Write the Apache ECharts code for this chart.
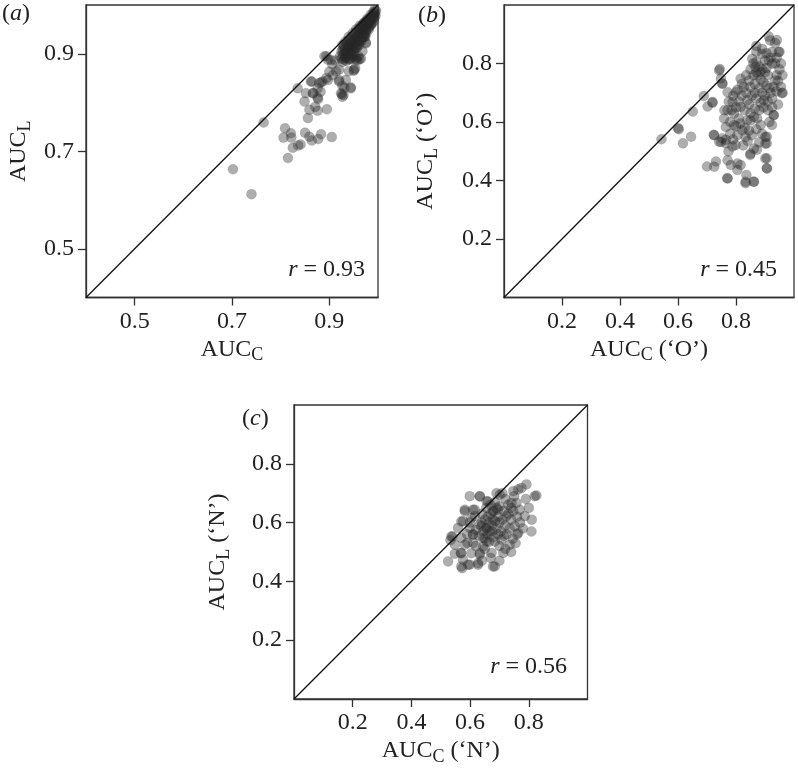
<!DOCTYPE html>
<html>
<head>
<meta charset="utf-8">
<script src="https://cdn.jsdelivr.net/npm/echarts@6/dist/echarts.min.js"></script>
<style>
html, body { margin: 0; padding: 0; background: #fff; }
#chart { width: 798px; height: 777px; }
</style>
</head>
<body>
<div id="chart"></div>
<script>
// (a) AUC_C vs AUC_L
var pointsA = [
    [0.702,0.663],[0.740,0.612],[0.765,0.759],[0.809,0.747],[0.806,0.728],[0.821,0.737],[0.822,0.728],
    [0.825,0.707],[0.815,0.686],[0.836,0.712],[0.841,0.714],[0.850,0.738],[0.859,0.730],[0.864,0.722],
    [0.877,0.725],[0.883,0.735],[0.905,0.729],[0.856,0.768],[0.859,0.785],[0.871,0.791],[0.876,0.783],
    [0.895,0.786],[0.849,0.802],[0.852,0.819],[0.866,0.819],[0.876,0.810],[0.882,0.822],[0.864,0.843],
    [0.883,0.841],[0.835,0.829],[0.897,0.846],[0.907,0.856],[0.914,0.864],[0.920,0.843],[0.927,0.834],
    [0.926,0.817],[0.929,0.815],[0.944,0.829],[0.950,0.865],[0.940,0.864],[0.953,0.870],[0.897,0.888],
    [0.906,0.878],[0.912,0.886],[0.890,0.895],[0.927,0.883],[0.958,0.886],[0.962,0.889],
    [0.894,0.895],[0.903,0.887],[0.920,0.867],[0.900,0.863],[0.894,0.850],[0.886,0.843],[0.879,0.840],
    [0.862,0.843],[0.876,0.829],[0.867,0.819],[0.877,0.807],[0.920,0.846],[0.934,0.846],[0.931,0.830],
    [0.944,0.831],[0.924,0.819],[0.927,0.812],[0.951,0.867],[0.941,0.888],[0.955,0.888],[0.975,0.921],
    [0.974,0.935],[0.975,0.923],[0.972,0.939],[0.968,0.905],[0.960,0.895],[0.955,0.892],[0.965,0.890],
    [0.925,0.905],[0.928,0.898],[0.930,0.912],[0.932,0.892],[0.933,0.905],[0.935,0.918],[0.936,0.899],
    [0.938,0.910],[0.938,0.925],[0.940,0.895],[0.940,0.915],[0.942,0.905],[0.943,0.930],[0.944,0.920],
    [0.945,0.900],[0.946,0.912],[0.947,0.935],[0.948,0.925],[0.949,0.908],[0.950,0.918],[0.951,0.940],
    [0.952,0.930],[0.953,0.912],[0.954,0.922],[0.955,0.945],[0.956,0.935],[0.957,0.918],[0.958,0.928],
    [0.959,0.948],[0.960,0.938],[0.961,0.925],[0.962,0.952],[0.963,0.942],[0.964,0.930],[0.965,0.956],
    [0.966,0.946],[0.967,0.935],[0.968,0.958],[0.969,0.950],[0.970,0.940],[0.971,0.962],[0.972,0.953],
    [0.973,0.944],[0.974,0.965],[0.975,0.957],[0.976,0.948],[0.977,0.968],[0.978,0.960],[0.979,0.952],
    [0.980,0.970],[0.981,0.963],[0.982,0.955],[0.983,0.973],[0.984,0.966],[0.985,0.958],[0.986,0.976],
    [0.987,0.969],[0.988,0.962],[0.989,0.979],[0.990,0.972],[0.991,0.966],[0.992,0.982],[0.993,0.975],
    [0.994,0.985],[0.995,0.978],[0.996,0.988],[0.985,0.980],[0.978,0.972],[0.970,0.963],[0.962,0.957],
    [0.955,0.950],[0.948,0.942],[0.940,0.935],[0.933,0.925],[0.927,0.918],[0.958,0.915],[0.965,0.925],
    [0.972,0.935],[0.945,0.890],[0.950,0.895],[0.930,0.888],[0.935,0.885],
    [0.922,0.895],[0.925,0.890],[0.928,0.908],[0.931,0.900],[0.934,0.893],[0.936,0.907],[0.939,0.902],
    [0.941,0.890],[0.943,0.912],[0.946,0.898],[0.948,0.915],[0.951,0.905],[0.953,0.925],[0.956,0.912],
    [0.958,0.935],[0.961,0.918],[0.963,0.945],[0.966,0.928],[0.968,0.950],[0.971,0.935],[0.973,0.958],
    [0.976,0.942],[0.978,0.965],[0.981,0.950],[0.983,0.970],[0.986,0.962],[0.988,0.975],[0.991,0.978],
    [0.993,0.990],[0.990,0.985],[0.937,0.920],[0.942,0.928],[0.930,0.918]
];

// (b) AUC_C ('O') vs AUC_L ('O')
var pointsB = [
    [0.543,0.541],[0.600,0.579],[0.603,0.575],[0.617,0.527],[0.645,0.550],[0.651,0.636],[0.689,0.689],
    [0.702,0.653],[0.719,0.666],[0.700,0.448],[0.731,0.465],[0.723,0.556],[0.744,0.781],[0.748,0.749],
    [0.753,0.732],[0.742,0.533],[0.753,0.544],[0.765,0.539],[0.770,0.408],[0.774,0.499],[0.765,0.527],
    [0.788,0.516],[0.782,0.453],[0.805,0.436],[0.816,0.453],[0.833,0.391],[0.836,0.419],[0.861,0.396],
    [0.849,0.487],[0.872,0.505],[0.906,0.476],[0.906,0.442],[0.906,0.527],[0.906,0.550],[0.930,0.624],
    [0.924,0.590],[0.958,0.698],[0.913,0.892],[0.941,0.880],[0.950,0.840],
    [0.918,0.879],[0.947,0.839],[0.924,0.839],[0.890,0.833],[0.913,0.810],[0.856,0.816],[0.867,0.788],
    [0.884,0.771],[0.924,0.799],[0.935,0.742],[0.961,0.700],[0.896,0.674],[0.839,0.674],[0.827,0.719],
    [0.845,0.742],[0.816,0.748],[0.799,0.702],[0.788,0.668],[0.771,0.640],[0.793,0.629],[0.816,0.651],
    [0.862,0.617],[0.873,0.612],[0.839,0.606],[0.810,0.612],[0.765,0.583],[0.759,0.612],[0.793,0.589],
    [0.822,0.572],[0.833,0.549],[0.901,0.549],[0.901,0.526],[0.930,0.623],[0.799,0.521],[0.862,0.509],
    [0.850,0.492],[0.748,0.532],[0.725,0.555],[0.719,0.668],[0.742,0.776],[0.753,0.731],[0.771,0.702],
    [0.901,0.475],[0.907,0.441],[0.771,0.469],[0.805,0.458],[0.833,0.396],[0.862,0.396],[0.771,0.407],
    [0.725,0.447],
    [0.860,0.800],[0.870,0.805],[0.880,0.790],[0.890,0.780],[0.900,0.770],[0.910,0.760],[0.875,0.760],
    [0.885,0.745],[0.895,0.735],[0.905,0.725],[0.915,0.715],[0.860,0.760],[0.850,0.720],[0.865,0.730],
    [0.880,0.715],[0.890,0.700],[0.900,0.690],[0.920,0.700],[0.930,0.720],[0.940,0.760],[0.950,0.780],
    [0.935,0.800],[0.920,0.820],[0.905,0.835],[0.890,0.850],[0.870,0.840],[0.855,0.690],[0.870,0.680],
    [0.885,0.665],[0.845,0.660],[0.830,0.640],[0.850,0.630],[0.865,0.645],[0.880,0.640],[0.895,0.650],
    [0.910,0.670],[0.925,0.680],[0.940,0.705],[0.945,0.740],[0.820,0.690],[0.810,0.670],[0.800,0.650],
    [0.785,0.640],[0.780,0.600],[0.800,0.585],[0.815,0.595],[0.830,0.580],[0.845,0.570],[0.855,0.555],
    [0.840,0.535],[0.825,0.520],[0.870,0.575],[0.885,0.590],[0.890,0.560],[0.880,0.530],[0.915,0.600],
    [0.910,0.640],[0.925,0.650],[0.945,0.660],[0.955,0.720],[0.960,0.760],[0.955,0.800],[0.940,0.820],
    [0.900,0.810],[0.870,0.770],[0.850,0.780],[0.835,0.760],[0.820,0.730],[0.805,0.710],[0.790,0.690],
    [0.775,0.670],[0.780,0.560],[0.760,0.640],[0.870,0.860],[0.935,0.870],[0.905,0.785],[0.865,0.700],
    [0.835,0.700],[0.850,0.605],[0.805,0.555],[0.790,0.540]
];

// (c) AUC_C ('N') vs AUC_L ('N')
var pointsC = [
    [0.525,0.468],[0.540,0.553],[0.533,0.540],[0.548,0.494],[0.568,0.497],[0.573,0.445],[0.576,0.605],
    [0.582,0.639],[0.599,0.690],[0.591,0.531],[0.599,0.457],[0.610,0.644],[0.616,0.622],[0.610,0.531],
    [0.633,0.690],[0.627,0.457],[0.633,0.491],[0.639,0.588],[0.656,0.673],[0.656,0.536],[0.678,0.451],
    [0.673,0.497],[0.667,0.570],[0.678,0.610],[0.701,0.695],[0.695,0.644],[0.707,0.542],[0.713,0.497],
    [0.724,0.622],[0.730,0.661],[0.735,0.525],[0.741,0.667],[0.747,0.707],[0.752,0.588],[0.764,0.565],
    [0.764,0.713],[0.775,0.718],[0.792,0.730],[0.769,0.644],[0.786,0.622],[0.809,0.570],[0.820,0.690],
    [0.826,0.692],[0.758,0.667],[0.747,0.639],
    [0.633,0.689],[0.582,0.644],[0.616,0.644],[0.661,0.672],[0.678,0.638],[0.570,0.604],[0.604,0.616],
    [0.559,0.582],[0.599,0.582],[0.633,0.593],[0.656,0.582],[0.536,0.553],[0.570,0.548],[0.610,0.559],
    [0.644,0.548],[0.684,0.536],[0.548,0.525],[0.582,0.525],[0.644,0.519],[0.570,0.496],[0.604,0.496],
    [0.633,0.496],[0.576,0.474],[0.570,0.451],[0.593,0.457],[0.627,0.462],[0.684,0.451],
    [0.640,0.600],[0.650,0.610],[0.660,0.620],[0.670,0.630],[0.680,0.640],[0.690,0.650],[0.665,0.600],
    [0.675,0.590],[0.685,0.605],[0.695,0.620],[0.700,0.600],[0.710,0.610],[0.720,0.590],[0.655,0.580],
    [0.645,0.570],[0.660,0.560],[0.675,0.570],[0.690,0.580],[0.705,0.570],[0.715,0.555],[0.650,0.545],
    [0.665,0.535],[0.680,0.550],[0.695,0.560],[0.630,0.555],[0.620,0.575],[0.640,0.630],[0.655,0.650],
    [0.670,0.660],[0.685,0.670],[0.700,0.655],[0.715,0.640],[0.730,0.630],[0.740,0.610],[0.735,0.580],
    [0.725,0.560],[0.745,0.545],[0.755,0.530],[0.760,0.620],[0.770,0.600],[0.780,0.580],[0.740,0.650],
    [0.750,0.690],[0.720,0.680],[0.710,0.700],[0.690,0.700],[0.600,0.600],[0.610,0.560],[0.590,0.560],
    [0.620,0.520],[0.650,0.510],[0.700,0.520],[0.720,0.510],[0.740,0.500],[0.760,0.560],[0.800,0.650],
    [0.790,0.680],[0.810,0.610],[0.670,0.480],[0.700,0.470],[0.640,0.470]
];

var panelPoints = [pointsA, pointsB, pointsC];
var axisRanges = [[0.4, 1.0], [0, 1], [0, 1]];
var tickValues = [[0.5, 0.7, 0.9], [0.2, 0.4, 0.6, 0.8], [0.2, 0.4, 0.6, 0.8]];
var nameSuffix = ['', ' (\u2018O\u2019)', ' (\u2018N\u2019)'];
var panelLetters = ['a', 'b', 'c'];
var rValues = ['0.93', '0.45', '0.56'];

// layout in pixels
var grids = [
    { left: 86, top: 5, width: 292, height: 292.5 },
    { left: 504, top: 5, width: 290, height: 292.5 },
    { left: 294, top: 405, width: 293.5, height: 294 }
];
var letterPos = [[2, 2], [418, 4], [242, 407]];
var rPos = [[433, 258], [21, 258], [231, 655]];
var yNameGap = [52, 63, 61];

var serif = 'Liberation Serif';
var ink = '#222';
var nameRich = {
    t: { fontFamily: serif, fontSize: 24, color: ink },
    s: { fontFamily: serif, fontSize: 18, color: ink, padding: [12, 0, 0, 0] }
};

function makeAxis(i, dim) {
    var r = axisRanges[i];
    var ax = {
        type: 'value',
        gridIndex: i,
        min: r[0],
        max: r[1],
        nameLocation: 'middle',
        name: '{t|AUC}{s|' + (dim === 'x' ? 'C' : 'L') + '}{t|' + nameSuffix[i] + '}',
        nameTextStyle: { rich: nameRich },
        splitLine: { show: false },
        axisLine: { show: true, lineStyle: { color: '#333', width: 1.3 } },
        axisTick: { show: true, length: 8, customValues: tickValues[i], lineStyle: { color: '#333', width: 1.3 } },
        axisLabel: {
            customValues: tickValues[i],
            fontFamily: serif, fontSize: 24, color: ink, margin: 12,
            formatter: function (v) { return v.toFixed(1); }
        }
    };
    if (dim === 'x') {
        ax.nameGap = 37;
    } else {
        ax.nameGap = yNameGap[i];
        ax.nameRotate = 90;
    }
    return ax;
}

var option = {
    animation: false,
    grid: [], xAxis: [], yAxis: [], series: [], title: []
};

var labelRich = {
    p: { fontFamily: serif, fontSize: 24, fontWeight: 'normal', color: ink },
    i: { fontFamily: serif, fontSize: 24, fontWeight: 'normal', fontStyle: 'italic', color: ink }
};

for (var i = 0; i < 3; i++) {
    var g = grids[i];
    option.grid.push({
        left: g.left, top: g.top, width: g.width, height: g.height,
        show: true, borderColor: '#333', borderWidth: 1.3, backgroundColor: 'transparent'
    });
    option.xAxis.push(makeAxis(i, 'x'));
    option.yAxis.push(makeAxis(i, 'y'));
    var r = axisRanges[i];
    option.series.push({
        type: 'line', xAxisIndex: i, yAxisIndex: i,
        data: [[r[0], r[0]], [r[1], r[1]]],
        symbol: 'none', silent: true,
        lineStyle: { color: '#111', width: 1.3 }
    });
    option.series.push({
        type: 'scatter', xAxisIndex: i, yAxisIndex: i,
        data: panelPoints[i],
        symbolSize: 10,
        itemStyle: { color: 'rgba(40,40,40,0.47)', borderColor: 'rgba(30,30,30,0.25)', borderWidth: 0.6 }
    });
    option.title.push({
        text: '{p|(}{i|' + panelLetters[i] + '}{p|)}',
        left: letterPos[i][0], top: letterPos[i][1], padding: 0,
        textStyle: { fontWeight: 'normal', rich: labelRich }
    });
    option.title.push({
        text: '{i|r}{p| = ' + rValues[i] + '}',
        right: rPos[i][0], top: rPos[i][1], padding: 0,
        textStyle: { fontWeight: 'normal', rich: labelRich }
    });
}

var myChart = echarts.init(document.getElementById('chart'));
myChart.setOption(option);
</script>
</body>
</html>
